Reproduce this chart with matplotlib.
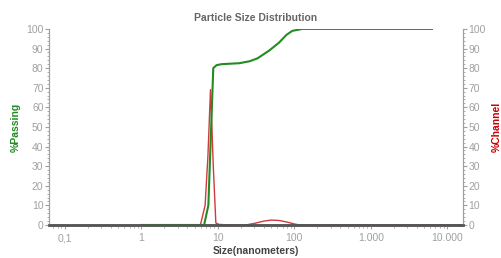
import matplotlib.pyplot as plt
from matplotlib.ticker import FixedLocator, MultipleLocator, FuncFormatter

plt.rcParams['font.family'] = 'Liberation Sans'

# cumulative passing (green)
pass_size = [1, 6.6, 7.5, 8.7, 9.6, 11.1, 19, 26, 33, 47, 63, 79, 94, 127, 6300]
pass_val = [0, 0, 10, 80, 81.5, 82, 82.5, 83.5, 85, 89, 93, 97, 99, 100, 100]

# channel (red)
chan_size = [1, 5.9, 6.8, 7.4, 8.0, 8.7, 9.4, 10.3, 14, 23, 30, 40, 50, 63, 80, 100, 118, 15000]
chan_val = [0, 0, 10, 35, 69, 30, 1, 0.3, 0, 0, 0.8, 2.0, 2.5, 2.3, 1.5, 0.5, 0, 0]

x_ticks = [0.1, 1, 10, 100, 1000, 10000]
x_labels = ['0,1', '1', '10', '100', '1.000', '10.000']

grey = '#a0a0a0'
fig = plt.figure(figsize=(5.01, 2.58), dpi=100)
ax1 = fig.add_axes([0.098, 0.128, 0.826, 0.76])
ax2 = ax1.twinx()
# green curve drawn above the red one
ax1.set_zorder(ax2.get_zorder() + 1)
ax1.patch.set_visible(False)

ax1.plot(pass_size, pass_val, color='#228b22', linewidth=1.5)
ax2.plot(chan_size, chan_val, color='#d03a3a', linewidth=1.0)

for ax in (ax1, ax2):
    ax.set_xscale('log')
    ax.set_xlim(0.062, 16000)
    ax.set_ylim(0, 100)
    ax.yaxis.set_major_locator(MultipleLocator(10))
    ax.yaxis.set_minor_locator(MultipleLocator(2))
    ax.spines['top'].set_visible(False)
    ax.spines['left'].set_color(grey)
    ax.spines['right'].set_color(grey)
    ax.spines['bottom'].set_color('#555555')
    ax.spines['bottom'].set_linewidth(1.8)
    ax.tick_params(axis='y', which='both', colors=grey, labelsize=7.5, pad=1)
    ax.tick_params(axis='y', which='major', length=3)
    ax.tick_params(axis='y', which='minor', length=1.5)

ax1.xaxis.set_major_locator(FixedLocator(x_ticks))
ax1.xaxis.set_major_formatter(FuncFormatter(lambda v, p: x_labels[x_ticks.index(v)] if v in x_ticks else ''))
ax1.tick_params(axis='x', which='both', colors=grey, labelsize=7.5, length=3, pad=3)
ax1.tick_params(axis='x', which='minor', length=2)

ax1.set_title('Particle Size Distribution', fontsize=7.5, color='#666666', fontweight='bold', pad=6)
ax1.set_xlabel('Size(nanometers)', fontsize=7.5, color='#444444', fontweight='bold', labelpad=2)
ax1.set_ylabel('%Passing', fontsize=7.5, color='#228b22', fontweight='bold', labelpad=4)
ax2.set_ylabel('%Channel', fontsize=7.5, color='#cc0000', fontweight='bold', labelpad=4)

plt.savefig('out.png', dpi=100)
